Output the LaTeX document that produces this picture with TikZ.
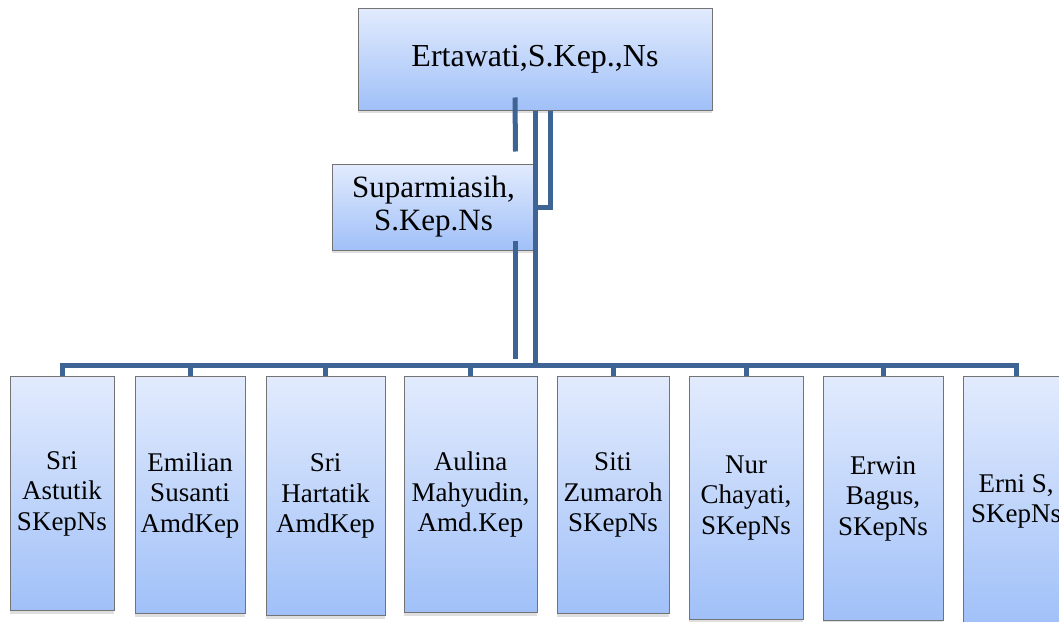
\documentclass[tikz,border=0pt]{standalone}
\usepackage{fontspec}
\setmainfont{Liberation Serif}
\usetikzlibrary{positioning, calc, shadows}
\definecolor{boxtop}{RGB}{226,235,253}
\definecolor{boxbot}{RGB}{160,192,248}
\definecolor{linkblue}{RGB}{62,100,150}
\definecolor{boxedge}{RGB}{115,115,115}

\begin{document}
\begin{tikzpicture}[x=1pt, y=-1pt,
  unit/.style={draw=boxedge, line width=1pt, top color=boxtop, bottom color=boxbot,
    align=center, inner sep=0pt,
    drop shadow={shadow xshift=0pt, shadow yshift=-3pt, opacity=0.25}},
  staff/.style={unit, anchor=north, font=\fontsize{27}{30.5}\selectfont},
  link/.style={linkblue, line width=5pt}]
  \useasboundingbox (0, 0) rectangle (1059, 621);

  % head and assistant
  \node[unit, minimum width=354pt, minimum height=102pt,
    font=\fontsize{32}{36}\selectfont] (boss) at (535, 59) {Ertawati,S.Kep.,Ns};
  \node[unit, minimum width=203pt, minimum height=86pt,
    font=\fontsize{31}{33}\selectfont] (sup) at (433.5, 207) {Suparmiasih,\\S.Kep.Ns};

  % staff row
  \node[staff, minimum width=104pt, minimum height=234pt] (s1) at (62, 376) {Sri\\Astutik\\SKepNs};
  \node[staff, minimum width=110pt, minimum height=237pt] (s2) at (190, 376) {Emilian\\Susanti\\AmdKep};
  \node[staff, minimum width=119pt, minimum height=239pt] (s3) at (325.5, 376) {Sri\\Hartatik\\AmdKep};
  \node[staff, minimum width=133pt, minimum height=236pt] (s4) at (470.5, 376) {Aulina\\Mahyudin,\\Amd.Kep};
  \node[staff, minimum width=112pt, minimum height=237pt] (s5) at (613, 376) {Siti\\Zumaroh\\SKepNs};
  \node[staff, minimum width=114pt, minimum height=243pt] (s6) at (746, 376) {Nur\\Chayati,\\SKepNs};
  \node[staff, minimum width=120pt, minimum height=244pt] (s7) at (883, 376) {Erwin\\Bagus,\\SKepNs};
  \node[staff, minimum width=106pt, minimum height=250pt] (s8) at (1016, 376) {Erni S,\\SKepNs};

  % connectors
  \coordinate (bar) at (0, 365);
  \draw[link] (s1.north) -- (s1.north |- bar) -- (s8.north |- bar) -- (s8.north);
  \foreach \i in {2,...,7}
    \draw[link] (s\i.north) -- (s\i.north |- bar);
  \draw[link] (boss.south) -- (boss.south |- bar);
  \draw[link] ([xshift=15pt]boss.south) |- (sup.east);
  \draw[link] ([xshift=-20pt, yshift=13pt]boss.south) -- ([xshift=-20pt, yshift=12pt]sup.north east);
  \draw[link] ([xshift=-20pt, yshift=10pt]sup.south east) -- ($(sup.south east |- bar) + (-20, -6)$);
\end{tikzpicture}
\end{document}
